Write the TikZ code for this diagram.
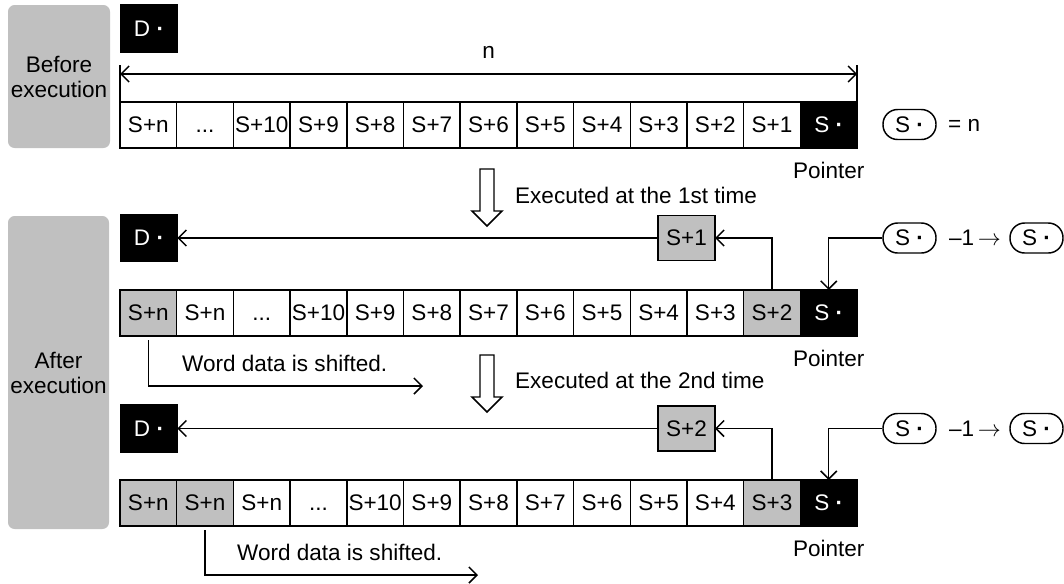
\documentclass[tikz,border=0pt]{standalone}
\usepackage{fontspec}
\setmainfont{Liberation Sans}
\usetikzlibrary{arrows.meta,positioning}
\definecolor{cellgray}{HTML}{C0C0C0}
\newcommand\ellip{\vphantom{S}...}
\newcommand\pdot{{\bfseries ·}}

\begin{document}
\begin{tikzpicture}[x=0.75pt, y=-0.75pt, line width=1.1pt, >={Straight Barb[length=6pt,width=12pt]},
    font=\fontsize{16.9}{18.75}\selectfont,
    cell/.style={draw, minimum width=42.5pt, minimum height=34.5pt, inner sep=0pt, outer sep=0pt},
    graycell/.style={cell, fill=cellgray},
    blackcell/.style={cell, fill=black, text=white},
    phase/.style={fill=cellgray, rounded corners=5pt, align=center, inner sep=0pt},
    oval/.style={draw, rounded corners=11pt, minimum width=39.75pt, minimum height=22.5pt, inner sep=0pt}]
    \useasboundingbox (0,0) rectangle (1064,583);

    % phase boxes
    \node[phase, minimum width=76.5pt, minimum height=107.25pt] (before) at (59,76.5) {Before\\execution};
    \node[phase, minimum width=75.75pt, minimum height=234.75pt] (after) at (58.5,372.5) {After\\execution};

    % destination
    \node[blackcell, minimum height=35.25pt] (d1) at (149,28.5) {D \pdot};
    \node[blackcell, minimum height=35.25pt] (d2) at (149,238) {D \pdot};
    \node[blackcell, minimum height=35.25pt] (d3) at (149,428.5) {D \pdot};

    % word rows
    \foreach \lab/\sty [count=\i] in {S+n/cell, \ellip/cell, S+10/cell, S+9/cell, S+8/cell, S+7/cell, S+6/cell, S+5/cell, S+4/cell, S+3/cell, S+2/cell, S+1/cell, S \pdot/blackcell}
        \node[\sty] (a\i) at ({120+(\i-0.5)*56.7},125) {\lab};
    \foreach \lab/\sty [count=\i] in {S+n/graycell, S+n/cell, \ellip/cell, S+10/cell, S+9/cell, S+8/cell, S+7/cell, S+6/cell, S+5/cell, S+4/cell, S+3/cell, S+2/graycell, S \pdot/blackcell}
        \node[\sty] (b\i) at ({120+(\i-0.5)*56.7},313) {\lab};
    \foreach \lab/\sty [count=\i] in {S+n/graycell, S+n/graycell, S+n/cell, \ellip/cell, S+10/cell, S+9/cell, S+8/cell, S+7/cell, S+6/cell, S+5/cell, S+4/cell, S+3/graycell, S \pdot/blackcell}
        \node[\sty] (c\i) at ({120+(\i-0.5)*56.7},503) {\lab};

    % width n
    \draw (a1.north west) -- ++(0,-37);
    \draw (a13.north east) -- ++(0,-37);
    \path (a1.north west) ++(0,-28) coordinate (nl);
    \path (a13.north east) ++(0,-28) coordinate (nr);
    \draw[<->] (nl) -- node[above=8pt] (nlab) {n} (nr);

    % pointer value
    \node[oval] (p0) at (909.5,124.5) {S \pdot};
    \node[anchor=west] (eqn) at (943,125) {= n};

    \node[below=6.5pt of a13] (ptr1) {Pointer};
    \node[below=6.5pt of b13] (ptr2) {Pointer};
    \node[below=6.5pt of c13] (ptr3) {Pointer};

    % execution steps
    \foreach \y in {169,355}
        \draw[fill=white] (480,\y) -- (494,\y) -- (494,{\y+42}) -- (502,{\y+42}) -- (487,{\y+57}) -- (472,{\y+42}) -- (480,{\y+42}) -- cycle;
    \node[anchor=west] (exec1) at (510,195) {Executed at the 1st time};
    \node[anchor=west] (exec2) at (510,380) {Executed at the 2nd time};

    % 1st time
    \node[graycell, minimum width=42.75pt, minimum height=33.75pt] (t1) at (686.5,238) {S+1};
    \draw[->] (t1.west) -- (d2.east);
    \draw[->] (b12.north) |- (t1.east);
    \node[oval] (p1a) at (909.5,238) {S \pdot};
    \node (dec1) at (975,238) {–1\,$\rightarrow$};
    \node[oval] (p1b) at (1036.5,238) {S \pdot};
    \draw[->] (p1a.west) -| (b13.north);

    % 2nd time
    \node[graycell, minimum width=42.75pt, minimum height=33.75pt] (t2) at (686.5,428.5) {S+2};
    \draw[->] (t2.west) -- (d3.east);
    \draw[->] (c12.north) |- (t2.east);
    \node[oval] (p2a) at (909.5,428.5) {S \pdot};
    \node (dec2) at (975,428.5) {–1\,$\rightarrow$};
    \node[oval] (p2b) at (1036.5,428.5) {S \pdot};
    \draw[->] (p2a.west) -| (c13.north);

    % shifting
    \coordinate (sh1) at (423,386);
    \coordinate (sh2) at (478,575);
    \draw[->] ([yshift=-3pt]b1.south) |- (sh1);
    \draw[->] ([yshift=-3pt]c2.south) |- (sh2);
    \node[anchor=west] (word1) at (177,363) {Word data is shifted.};
    \node[anchor=west] (word2) at (232,552) {Word data is shifted.};
\end{tikzpicture}
\end{document}
